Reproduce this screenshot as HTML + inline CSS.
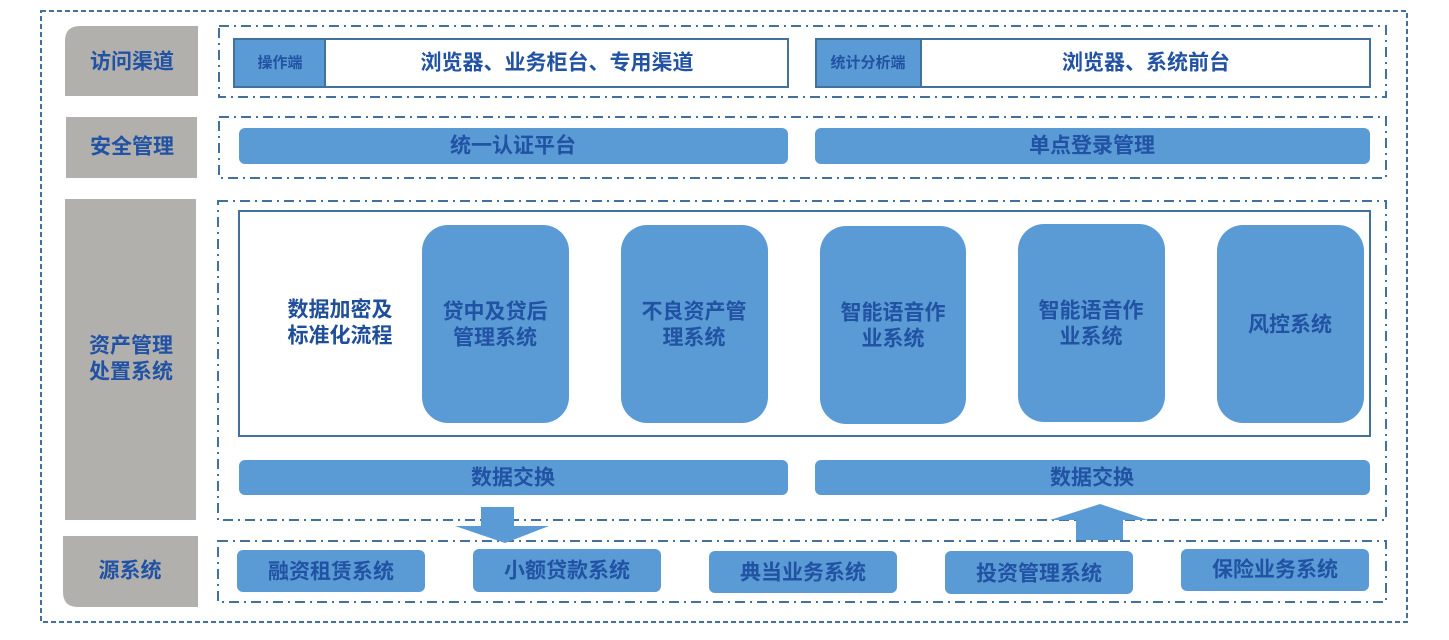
<!DOCTYPE html>
<html><head><meta charset="utf-8"><style>
html,body{margin:0;padding:0;background:#fff;width:1449px;height:640px;overflow:hidden}
svg text{font-family:"Liberation Sans","Noto Sans CJK SC",sans-serif;font-weight:bold;fill:#2152a3;text-anchor:middle;dominant-baseline:central}
</style></head><body>
<svg width="1449" height="640" viewBox="0 0 1449 640" xmlns="http://www.w3.org/2000/svg">
<g fill="none" stroke="#41719c" stroke-width="2">
<rect x="41" y="11" width="1366" height="611" stroke-dasharray="5 3"/>
<g stroke-dasharray="10 5 2 5">
<rect x="219" y="26" width="1167" height="71"/>
<rect x="219" y="117" width="1167" height="61"/>
<rect x="218" y="201" width="1168" height="319"/>
<rect x="218" y="541" width="1168" height="61"/>
</g>
</g>
<g fill="#b2b0ad">
<path d="M80 26H198V96H65V41Q65 26 80 26Z"/>
<rect x="66" y="117" width="131" height="61"/>
<rect x="65" y="199" width="131" height="321"/>
<path d="M63 536H198V607H78Q63 607 63 592Z"/>
</g>
<text x="132" y="62" font-size="21">访问渠道</text>
<text x="132" y="147" font-size="21">安全管理</text>
<text x="131" y="346" font-size="21">资产管理</text>
<text x="131" y="372" font-size="21">处置系统</text>
<text x="130" y="571" font-size="21">源系统</text>
<rect x="234" y="39" width="554" height="48" fill="#fff" stroke="#41719c" stroke-width="2"/>
<rect x="234" y="39" width="91" height="48" fill="#5b9bd5" stroke="#41719c" stroke-width="2"/>
<text x="280" y="63" font-size="15">操作端</text>
<text x="557" y="63" font-size="21">浏览器、业务柜台、专用渠道</text>
<rect x="816" y="39" width="554" height="48" fill="#fff" stroke="#41719c" stroke-width="2"/>
<rect x="816" y="39" width="105" height="48" fill="#5b9bd5" stroke="#41719c" stroke-width="2"/>
<text x="868" y="63" font-size="15">统计分析端</text>
<text x="1146" y="63" font-size="21">浏览器、系统前台</text>
<g fill="#5b9bd5">
<rect x="239" y="128" width="549" height="36" rx="6"/>
<rect x="815" y="128" width="555" height="36" rx="6"/>
<rect x="239" y="460" width="549" height="35" rx="6"/>
<rect x="815" y="460" width="555" height="35" rx="6"/>
</g>
<text x="513" y="146" font-size="21">统一认证平台</text>
<text x="1092" y="146" font-size="21">单点登录管理</text>
<rect x="239" y="211" width="1131" height="225" fill="#fff" stroke="#41719c" stroke-width="2"/>
<text x="340" y="310" font-size="21" style="fill:#1f4e9a">数据加密及</text>
<text x="340" y="336" font-size="21" style="fill:#1f4e9a">标准化流程</text>
<g fill="#5b9bd5">
<rect x="422" y="225" width="147" height="198" rx="26"/>
<rect x="621" y="225" width="147" height="198" rx="26"/>
<rect x="820" y="226" width="146" height="198" rx="26"/>
<rect x="1018" y="224" width="147" height="198" rx="26"/>
<rect x="1217" y="225" width="147" height="198" rx="26"/>
</g>
<text x="495" y="312" font-size="21">贷中及贷后</text>
<text x="495" y="338" font-size="21">管理系统</text>
<text x="694" y="312" font-size="21">不良资产管</text>
<text x="694" y="338" font-size="21">理系统</text>
<text x="893" y="313" font-size="21">智能语音作</text>
<text x="893" y="339" font-size="21">业系统</text>
<text x="1091" y="311" font-size="21">智能语音作</text>
<text x="1091" y="337" font-size="21">业系统</text>
<text x="1290" y="325" font-size="21">风控系统</text>
<text x="513" y="478" font-size="21">数据交换</text>
<text x="1092" y="478" font-size="21">数据交换</text>
<g fill="#5b9bd5">
<path d="M481 507H514V526H549L505 543L455 526H481Z"/>
<path d="M1100 504L1148 520H1123V540H1076V520H1050Z"/>
</g>
<g fill="#5b9bd5">
<rect x="237" y="550" width="188" height="42" rx="6"/>
<rect x="473" y="549" width="188" height="43" rx="6"/>
<rect x="709" y="551" width="188" height="42" rx="6"/>
<rect x="945" y="551" width="188" height="43" rx="6"/>
<rect x="1181" y="549" width="188" height="42" rx="6"/>
</g>
<text x="331" y="572" font-size="21">融资租赁系统</text>
<text x="567" y="571" font-size="21">小额贷款系统</text>
<text x="803" y="573" font-size="21">典当业务系统</text>
<text x="1039" y="574" font-size="21">投资管理系统</text>
<text x="1275" y="570" font-size="21">保险业务系统</text>
</svg>
</body></html>
